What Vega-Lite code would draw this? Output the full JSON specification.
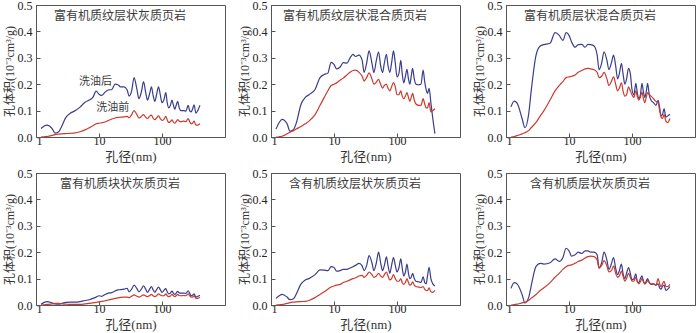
{
"$schema":"https://vega.github.io/schema/vega-lite/v6.json",
"padding":{"left":2,"top":-2,"right":0,"bottom":0},
"data":{"values":[
{"p":1,"d":1.2,"a":0.032,"b":0},{"p":1,"d":1.35,"a":0.042,"b":0.001},{"p":1,"d":1.5,"a":0.045,"b":0.002},{"p":1,"d":1.8,"a":0.032,"b":0.006},{"p":1,"d":2.0,"a":0.015,"b":0.009},{"p":1,"d":2.3,"a":0.02,"b":0.011},{"p":1,"d":2.5,"a":0.035,"b":0.012},{"p":1,"d":3,"a":0.075,"b":0.013},{"p":1,"d":3.5,"a":0.09,"b":0.014},{"p":1,"d":4,"a":0.097,"b":0.015},{"p":1,"d":5,"a":0.113,"b":0.02},{"p":1,"d":6,"a":0.132,"b":0.027},{"p":1,"d":7,"a":0.14,"b":0.035},{"p":1,"d":8,"a":0.15,"b":0.043},{"p":1,"d":9,"a":0.174,"b":0.05},{"p":1,"d":10,"a":0.162,"b":0.052},{"p":1,"d":11,"a":0.158,"b":0.054},{"p":1,"d":12.5,"a":0.17,"b":0.057},{"p":1,"d":14,"a":0.178,"b":0.062},{"p":1,"d":16,"a":0.18,"b":0.068},{"p":1,"d":18,"a":0.2,"b":0.072},{"p":1,"d":20,"a":0.198,"b":0.074},{"p":1,"d":22,"a":0.19,"b":0.075},{"p":1,"d":25,"a":0.19,"b":0.076},{"p":1,"d":28,"a":0.178,"b":0.078},{"p":1,"d":30,"a":0.155,"b":0.073},{"p":1,"d":33,"a":0.175,"b":0.085},{"p":1,"d":36,"a":0.225,"b":0.1},{"p":1,"d":40,"a":0.18,"b":0.085},{"p":1,"d":43,"a":0.145,"b":0.072},{"p":1,"d":47,"a":0.17,"b":0.078},{"p":1,"d":51,"a":0.21,"b":0.085},{"p":1,"d":55,"a":0.17,"b":0.075},{"p":1,"d":59,"a":0.14,"b":0.07},{"p":1,"d":63,"a":0.16,"b":0.078},{"p":1,"d":68,"a":0.19,"b":0.083},{"p":1,"d":72,"a":0.16,"b":0.072},{"p":1,"d":77,"a":0.135,"b":0.066},{"p":1,"d":82,"a":0.16,"b":0.072},{"p":1,"d":88,"a":0.19,"b":0.08},{"p":1,"d":94,"a":0.16,"b":0.07},{"p":1,"d":100,"a":0.13,"b":0.063},{"p":1,"d":107,"a":0.14,"b":0.067},{"p":1,"d":115,"a":0.168,"b":0.078},{"p":1,"d":121,"a":0.13,"b":0.065},{"p":1,"d":128,"a":0.11,"b":0.055},{"p":1,"d":136,"a":0.12,"b":0.058},{"p":1,"d":144,"a":0.14,"b":0.065},{"p":1,"d":152,"a":0.12,"b":0.056},{"p":1,"d":160,"a":0.105,"b":0.052},{"p":1,"d":168,"a":0.12,"b":0.058},{"p":1,"d":177,"a":0.135,"b":0.066},{"p":1,"d":188,"a":0.11,"b":0.06},{"p":1,"d":200,"a":0.1,"b":0.058},{"p":1,"d":220,"a":0.1,"b":0.06},{"p":1,"d":240,"a":0.098,"b":0.058},{"p":1,"d":260,"a":0.12,"b":0.07},{"p":1,"d":275,"a":0.1,"b":0.058},{"p":1,"d":290,"a":0.095,"b":0.05},{"p":1,"d":305,"a":0.105,"b":0.052},{"p":1,"d":323,"a":0.122,"b":0.06},{"p":1,"d":345,"a":0.09,"b":0.045},{"p":1,"d":370,"a":0.1,"b":0.045},{"p":1,"d":400,"a":0.12,"b":0.05},
{"p":2,"d":1.2,"a":0.03,"b":0},{"p":2,"d":1.35,"a":0.055,"b":0.001},{"p":2,"d":1.5,"a":0.067,"b":0.003},{"p":2,"d":1.8,"a":0.05,"b":0.012},{"p":2,"d":2.0,"a":0.022,"b":0.018},{"p":2,"d":2.3,"a":0.03,"b":0.025},{"p":2,"d":2.5,"a":0.05,"b":0.03},{"p":2,"d":3,"a":0.124,"b":0.04},{"p":2,"d":3.5,"a":0.15,"b":0.05},{"p":2,"d":4,"a":0.16,"b":0.06},{"p":2,"d":5,"a":0.18,"b":0.085},{"p":2,"d":6,"a":0.225,"b":0.12},{"p":2,"d":7,"a":0.237,"b":0.15},{"p":2,"d":8,"a":0.242,"b":0.175},{"p":2,"d":9,"a":0.283,"b":0.195},{"p":2,"d":10,"a":0.275,"b":0.2},{"p":2,"d":11,"a":0.258,"b":0.205},{"p":2,"d":12.5,"a":0.265,"b":0.215},{"p":2,"d":14,"a":0.282,"b":0.223},{"p":2,"d":16,"a":0.28,"b":0.235},{"p":2,"d":18,"a":0.3,"b":0.245},{"p":2,"d":20,"a":0.313,"b":0.252},{"p":2,"d":22,"a":0.305,"b":0.253},{"p":2,"d":25,"a":0.31,"b":0.245},{"p":2,"d":28,"a":0.29,"b":0.23},{"p":2,"d":30,"a":0.245,"b":0.212},{"p":2,"d":33,"a":0.28,"b":0.225},{"p":2,"d":36,"a":0.326,"b":0.243},{"p":2,"d":40,"a":0.28,"b":0.22},{"p":2,"d":43,"a":0.244,"b":0.2},{"p":2,"d":47,"a":0.29,"b":0.208},{"p":2,"d":51,"a":0.322,"b":0.218},{"p":2,"d":55,"a":0.27,"b":0.2},{"p":2,"d":59,"a":0.244,"b":0.185},{"p":2,"d":63,"a":0.28,"b":0.195},{"p":2,"d":68,"a":0.313,"b":0.2},{"p":2,"d":72,"a":0.27,"b":0.185},{"p":2,"d":77,"a":0.245,"b":0.175},{"p":2,"d":82,"a":0.28,"b":0.19},{"p":2,"d":88,"a":0.326,"b":0.206},{"p":2,"d":94,"a":0.28,"b":0.19},{"p":2,"d":100,"a":0.228,"b":0.16},{"p":2,"d":107,"a":0.24,"b":0.16},{"p":2,"d":115,"a":0.29,"b":0.175},{"p":2,"d":121,"a":0.24,"b":0.155},{"p":2,"d":128,"a":0.205,"b":0.145},{"p":2,"d":136,"a":0.23,"b":0.155},{"p":2,"d":144,"a":0.256,"b":0.168},{"p":2,"d":152,"a":0.22,"b":0.15},{"p":2,"d":160,"a":0.2,"b":0.135},{"p":2,"d":168,"a":0.23,"b":0.15},{"p":2,"d":177,"a":0.26,"b":0.165},{"p":2,"d":188,"a":0.22,"b":0.14},{"p":2,"d":200,"a":0.2,"b":0.125},{"p":2,"d":220,"a":0.198,"b":0.12},{"p":2,"d":240,"a":0.2,"b":0.12},{"p":2,"d":260,"a":0.253,"b":0.145},{"p":2,"d":275,"a":0.21,"b":0.125},{"p":2,"d":290,"a":0.18,"b":0.11},{"p":2,"d":305,"a":0.165,"b":0.11},{"p":2,"d":323,"a":0.184,"b":0.13},{"p":2,"d":345,"a":0.13,"b":0.095},{"p":2,"d":370,"a":0.07,"b":0.1},{"p":2,"d":400,"a":0.013,"b":0.107},
{"p":3,"d":1.2,"a":0.114,"b":0},{"p":3,"d":1.35,"a":0.136,"b":0.002},{"p":3,"d":1.5,"a":0.128,"b":0.005},{"p":3,"d":1.8,"a":0.07,"b":0.012},{"p":3,"d":2.0,"a":0.035,"b":0.016},{"p":3,"d":2.3,"a":0.09,"b":0.025},{"p":3,"d":2.5,"a":0.17,"b":0.035},{"p":3,"d":3,"a":0.31,"b":0.055},{"p":3,"d":3.5,"a":0.345,"b":0.08},{"p":3,"d":4,"a":0.35,"b":0.1},{"p":3,"d":5,"a":0.355,"b":0.14},{"p":3,"d":6,"a":0.395,"b":0.175},{"p":3,"d":7,"a":0.385,"b":0.195},{"p":3,"d":8,"a":0.366,"b":0.21},{"p":3,"d":9,"a":0.395,"b":0.225},{"p":3,"d":10,"a":0.385,"b":0.228},{"p":3,"d":11,"a":0.36,"b":0.23},{"p":3,"d":12.5,"a":0.34,"b":0.235},{"p":3,"d":14,"a":0.35,"b":0.245},{"p":3,"d":16,"a":0.351,"b":0.252},{"p":3,"d":18,"a":0.34,"b":0.258},{"p":3,"d":20,"a":0.351,"b":0.26},{"p":3,"d":22,"a":0.35,"b":0.258},{"p":3,"d":25,"a":0.345,"b":0.255},{"p":3,"d":28,"a":0.31,"b":0.245},{"p":3,"d":30,"a":0.255,"b":0.225},{"p":3,"d":33,"a":0.28,"b":0.23},{"p":3,"d":36,"a":0.323,"b":0.245},{"p":3,"d":40,"a":0.29,"b":0.22},{"p":3,"d":43,"a":0.255,"b":0.195},{"p":3,"d":47,"a":0.28,"b":0.21},{"p":3,"d":51,"a":0.31,"b":0.228},{"p":3,"d":55,"a":0.27,"b":0.2},{"p":3,"d":59,"a":0.22,"b":0.175},{"p":3,"d":63,"a":0.24,"b":0.185},{"p":3,"d":68,"a":0.279,"b":0.205},{"p":3,"d":72,"a":0.24,"b":0.175},{"p":3,"d":77,"a":0.2,"b":0.155},{"p":3,"d":82,"a":0.22,"b":0.16},{"p":3,"d":88,"a":0.26,"b":0.19},{"p":3,"d":94,"a":0.24,"b":0.175},{"p":3,"d":100,"a":0.18,"b":0.16},{"p":3,"d":107,"a":0.16,"b":0.15},{"p":3,"d":115,"a":0.203,"b":0.175},{"p":3,"d":121,"a":0.17,"b":0.155},{"p":3,"d":128,"a":0.145,"b":0.14},{"p":3,"d":136,"a":0.16,"b":0.15},{"p":3,"d":144,"a":0.203,"b":0.17},{"p":3,"d":152,"a":0.17,"b":0.145},{"p":3,"d":160,"a":0.15,"b":0.13},{"p":3,"d":168,"a":0.17,"b":0.15},{"p":3,"d":177,"a":0.203,"b":0.168},{"p":3,"d":188,"a":0.16,"b":0.16},{"p":3,"d":200,"a":0.14,"b":0.155},{"p":3,"d":220,"a":0.13,"b":0.145},{"p":3,"d":240,"a":0.12,"b":0.135},{"p":3,"d":260,"a":0.139,"b":0.13},{"p":3,"d":275,"a":0.11,"b":0.1},{"p":3,"d":290,"a":0.08,"b":0.075},{"p":3,"d":305,"a":0.085,"b":0.07},{"p":3,"d":323,"a":0.108,"b":0.085},{"p":3,"d":345,"a":0.075,"b":0.06},{"p":3,"d":370,"a":0.08,"b":0.055},{"p":3,"d":400,"a":0.086,"b":0.07},
{"p":4,"d":1.2,"a":0.003,"b":0},{"p":4,"d":1.35,"a":0.01,"b":0.001},{"p":4,"d":1.5,"a":0.013,"b":0.002},{"p":4,"d":1.8,"a":0.008,"b":0.004},{"p":4,"d":2.0,"a":0.004,"b":0.006},{"p":4,"d":2.3,"a":0.003,"b":0.006},{"p":4,"d":2.5,"a":0.005,"b":0.005},{"p":4,"d":3,"a":0.01,"b":0.003},{"p":4,"d":3.5,"a":0.011,"b":0.002},{"p":4,"d":4,"a":0.011,"b":0.002},{"p":4,"d":5,"a":0.013,"b":0.002},{"p":4,"d":6,"a":0.017,"b":0.004},{"p":4,"d":7,"a":0.02,"b":0.006},{"p":4,"d":8,"a":0.025,"b":0.008},{"p":4,"d":9,"a":0.03,"b":0.01},{"p":4,"d":10,"a":0.035,"b":0.012},{"p":4,"d":11,"a":0.033,"b":0.014},{"p":4,"d":12.5,"a":0.04,"b":0.016},{"p":4,"d":14,"a":0.045,"b":0.019},{"p":4,"d":16,"a":0.047,"b":0.022},{"p":4,"d":18,"a":0.053,"b":0.025},{"p":4,"d":20,"a":0.057,"b":0.027},{"p":4,"d":22,"a":0.058,"b":0.029},{"p":4,"d":25,"a":0.06,"b":0.03},{"p":4,"d":28,"a":0.063,"b":0.03},{"p":4,"d":30,"a":0.05,"b":0.028},{"p":4,"d":33,"a":0.06,"b":0.033},{"p":4,"d":36,"a":0.075,"b":0.038},{"p":4,"d":40,"a":0.062,"b":0.033},{"p":4,"d":43,"a":0.05,"b":0.03},{"p":4,"d":47,"a":0.06,"b":0.034},{"p":4,"d":51,"a":0.073,"b":0.038},{"p":4,"d":55,"a":0.06,"b":0.034},{"p":4,"d":59,"a":0.048,"b":0.032},{"p":4,"d":63,"a":0.058,"b":0.035},{"p":4,"d":68,"a":0.07,"b":0.04},{"p":4,"d":72,"a":0.058,"b":0.035},{"p":4,"d":77,"a":0.048,"b":0.032},{"p":4,"d":82,"a":0.058,"b":0.035},{"p":4,"d":88,"a":0.068,"b":0.042},{"p":4,"d":94,"a":0.058,"b":0.038},{"p":4,"d":100,"a":0.048,"b":0.035},{"p":4,"d":107,"a":0.055,"b":0.035},{"p":4,"d":115,"a":0.062,"b":0.042},{"p":4,"d":121,"a":0.05,"b":0.035},{"p":4,"d":128,"a":0.042,"b":0.032},{"p":4,"d":136,"a":0.045,"b":0.034},{"p":4,"d":144,"a":0.053,"b":0.04},{"p":4,"d":152,"a":0.045,"b":0.035},{"p":4,"d":160,"a":0.04,"b":0.032},{"p":4,"d":168,"a":0.045,"b":0.035},{"p":4,"d":177,"a":0.052,"b":0.04},{"p":4,"d":188,"a":0.046,"b":0.036},{"p":4,"d":200,"a":0.045,"b":0.035},{"p":4,"d":220,"a":0.045,"b":0.036},{"p":4,"d":240,"a":0.044,"b":0.035},{"p":4,"d":260,"a":0.054,"b":0.042},{"p":4,"d":275,"a":0.045,"b":0.035},{"p":4,"d":290,"a":0.035,"b":0.03},{"p":4,"d":305,"a":0.037,"b":0.03},{"p":4,"d":323,"a":0.042,"b":0.035},{"p":4,"d":345,"a":0.03,"b":0.025},{"p":4,"d":370,"a":0.033,"b":0.025},{"p":4,"d":400,"a":0.037,"b":0.03},
{"p":5,"d":1.2,"a":0.025,"b":0},{"p":5,"d":1.35,"a":0.035,"b":0.001},{"p":5,"d":1.5,"a":0.04,"b":0.002},{"p":5,"d":1.8,"a":0.03,"b":0.006},{"p":5,"d":2.0,"a":0.02,"b":0.009},{"p":5,"d":2.3,"a":0.025,"b":0.011},{"p":5,"d":2.5,"a":0.04,"b":0.012},{"p":5,"d":3,"a":0.08,"b":0.013},{"p":5,"d":3.5,"a":0.095,"b":0.014},{"p":5,"d":4,"a":0.1,"b":0.017},{"p":5,"d":5,"a":0.115,"b":0.028},{"p":5,"d":6,"a":0.133,"b":0.04},{"p":5,"d":7,"a":0.132,"b":0.05},{"p":5,"d":8,"a":0.13,"b":0.06},{"p":5,"d":9,"a":0.145,"b":0.068},{"p":5,"d":10,"a":0.142,"b":0.072},{"p":5,"d":11,"a":0.128,"b":0.075},{"p":5,"d":12.5,"a":0.13,"b":0.078},{"p":5,"d":14,"a":0.135,"b":0.085},{"p":5,"d":16,"a":0.135,"b":0.09},{"p":5,"d":18,"a":0.14,"b":0.095},{"p":5,"d":20,"a":0.145,"b":0.1},{"p":5,"d":22,"a":0.15,"b":0.103},{"p":5,"d":25,"a":0.158,"b":0.11},{"p":5,"d":28,"a":0.148,"b":0.112},{"p":5,"d":30,"a":0.13,"b":0.105},{"p":5,"d":33,"a":0.15,"b":0.112},{"p":5,"d":36,"a":0.187,"b":0.125},{"p":5,"d":40,"a":0.16,"b":0.115},{"p":5,"d":43,"a":0.13,"b":0.105},{"p":5,"d":47,"a":0.16,"b":0.11},{"p":5,"d":51,"a":0.2,"b":0.12},{"p":5,"d":55,"a":0.16,"b":0.11},{"p":5,"d":59,"a":0.13,"b":0.105},{"p":5,"d":63,"a":0.15,"b":0.115},{"p":5,"d":68,"a":0.182,"b":0.125},{"p":5,"d":72,"a":0.15,"b":0.11},{"p":5,"d":77,"a":0.12,"b":0.095},{"p":5,"d":82,"a":0.15,"b":0.1},{"p":5,"d":88,"a":0.18,"b":0.115},{"p":5,"d":94,"a":0.15,"b":0.1},{"p":5,"d":100,"a":0.125,"b":0.09},{"p":5,"d":107,"a":0.14,"b":0.09},{"p":5,"d":115,"a":0.175,"b":0.1},{"p":5,"d":121,"a":0.14,"b":0.085},{"p":5,"d":128,"a":0.11,"b":0.078},{"p":5,"d":136,"a":0.125,"b":0.085},{"p":5,"d":144,"a":0.155,"b":0.1},{"p":5,"d":152,"a":0.12,"b":0.085},{"p":5,"d":160,"a":0.1,"b":0.075},{"p":5,"d":168,"a":0.105,"b":0.078},{"p":5,"d":177,"a":0.12,"b":0.088},{"p":5,"d":188,"a":0.1,"b":0.075},{"p":5,"d":200,"a":0.09,"b":0.07},{"p":5,"d":220,"a":0.088,"b":0.068},{"p":5,"d":240,"a":0.085,"b":0.066},{"p":5,"d":260,"a":0.107,"b":0.07},{"p":5,"d":275,"a":0.085,"b":0.06},{"p":5,"d":290,"a":0.08,"b":0.055},{"p":5,"d":305,"a":0.11,"b":0.055},{"p":5,"d":323,"a":0.143,"b":0.065},{"p":5,"d":345,"a":0.1,"b":0.05},{"p":5,"d":370,"a":0.08,"b":0.048},{"p":5,"d":400,"a":0.072,"b":0.055},
{"p":6,"d":1.2,"a":0.063,"b":0},{"p":6,"d":1.35,"a":0.085,"b":0.002},{"p":6,"d":1.5,"a":0.08,"b":0.003},{"p":6,"d":1.8,"a":0.04,"b":0.008},{"p":6,"d":2.0,"a":0.008,"b":0.01},{"p":6,"d":2.3,"a":0.03,"b":0.018},{"p":6,"d":2.5,"a":0.07,"b":0.025},{"p":6,"d":3,"a":0.146,"b":0.04},{"p":6,"d":3.5,"a":0.158,"b":0.055},{"p":6,"d":4,"a":0.155,"b":0.065},{"p":6,"d":5,"a":0.16,"b":0.085},{"p":6,"d":6,"a":0.175,"b":0.105},{"p":6,"d":7,"a":0.165,"b":0.12},{"p":6,"d":8,"a":0.18,"b":0.135},{"p":6,"d":9,"a":0.215,"b":0.145},{"p":6,"d":10,"a":0.205,"b":0.15},{"p":6,"d":11,"a":0.185,"b":0.152},{"p":6,"d":12.5,"a":0.19,"b":0.158},{"p":6,"d":14,"a":0.2,"b":0.165},{"p":6,"d":16,"a":0.195,"b":0.17},{"p":6,"d":18,"a":0.205,"b":0.178},{"p":6,"d":20,"a":0.205,"b":0.183},{"p":6,"d":22,"a":0.2,"b":0.185},{"p":6,"d":25,"a":0.2,"b":0.183},{"p":6,"d":28,"a":0.19,"b":0.17},{"p":6,"d":30,"a":0.14,"b":0.14},{"p":6,"d":33,"a":0.16,"b":0.15},{"p":6,"d":36,"a":0.2,"b":0.168},{"p":6,"d":40,"a":0.17,"b":0.148},{"p":6,"d":43,"a":0.135,"b":0.125},{"p":6,"d":47,"a":0.155,"b":0.13},{"p":6,"d":51,"a":0.18,"b":0.148},{"p":6,"d":55,"a":0.14,"b":0.12},{"p":6,"d":59,"a":0.115,"b":0.105},{"p":6,"d":63,"a":0.13,"b":0.11},{"p":6,"d":68,"a":0.155,"b":0.128},{"p":6,"d":72,"a":0.12,"b":0.11},{"p":6,"d":77,"a":0.1,"b":0.09},{"p":6,"d":82,"a":0.12,"b":0.1},{"p":6,"d":88,"a":0.142,"b":0.12},{"p":6,"d":94,"a":0.12,"b":0.105},{"p":6,"d":100,"a":0.095,"b":0.09},{"p":6,"d":107,"a":0.1,"b":0.09},{"p":6,"d":115,"a":0.118,"b":0.105},{"p":6,"d":121,"a":0.09,"b":0.09},{"p":6,"d":128,"a":0.085,"b":0.08},{"p":6,"d":136,"a":0.1,"b":0.088},{"p":6,"d":144,"a":0.11,"b":0.1},{"p":6,"d":152,"a":0.09,"b":0.088},{"p":6,"d":160,"a":0.08,"b":0.08},{"p":6,"d":168,"a":0.09,"b":0.085},{"p":6,"d":177,"a":0.1,"b":0.092},{"p":6,"d":188,"a":0.085,"b":0.085},{"p":6,"d":200,"a":0.078,"b":0.08},{"p":6,"d":220,"a":0.08,"b":0.08},{"p":6,"d":240,"a":0.075,"b":0.075},{"p":6,"d":260,"a":0.08,"b":0.1},{"p":6,"d":275,"a":0.065,"b":0.08},{"p":6,"d":290,"a":0.06,"b":0.07},{"p":6,"d":305,"a":0.07,"b":0.08},{"p":6,"d":323,"a":0.075,"b":0.09},{"p":6,"d":345,"a":0.055,"b":0.07},{"p":6,"d":370,"a":0.06,"b":0.07},{"p":6,"d":400,"a":0.07,"b":0.078}
]},
"columns":3,
"spacing":{"row":36,"column":46},
"bounds":"flush",
"concat":[
{"transform":[{"filter":"datum.p==1"}],"width":189,"height":132,"layer":[
{"transform":[{"fold":["a","b"],"as":["s","v"]}],"mark":"line","encoding":{"x":{"field":"d","type":"quantitative","scale":{"type":"log","domain":[1,500]},"axis":{"values":[1,10,100],"format":"d","title":"孔径(nm)","labelOverlap":false}},"y":{"field":"v","type":"quantitative","scale":{"domain":[0,0.5],"nice":false},"axis":{"values":[0,0.1,0.2,0.3,0.4,0.5],"tickCount":12,"format":".1f","title":"孔体积(10⁻³cm³/g)","labelOverlap":false,"labelBound":false,"labelFlush":false}},"color":{"field":"s","type":"nominal","scale":{"domain":["a","b"],"range":["#3a3c8e","#cb3a2c"]},"legend":null}}},
{"transform":[{"filter":"datum.d==1.2"}],"mark":"text","encoding":{"x":{"datum":21.5,"type":"quantitative"},"y":{"datum":0.458,"type":"quantitative"},"text":{"value":"富有机质纹层状灰质页岩"}}},
{"transform":[{"filter":"datum.d==1.2"}],"mark":{"type":"text","fontSize":11},"encoding":{"x":{"datum":8.8,"type":"quantitative"},"y":{"datum":0.207,"type":"quantitative"},"text":{"value":"洗油后"}}},
{"transform":[{"filter":"datum.d==1.2"}],"mark":{"type":"text","fontSize":11},"encoding":{"x":{"datum":16.5,"type":"quantitative"},"y":{"datum":0.109,"type":"quantitative"},"text":{"value":"洗油前"}}}
]},
{"transform":[{"filter":"datum.p==2"}],"width":189,"height":132,"layer":[
{"transform":[{"fold":["a","b"],"as":["s","v"]}],"mark":"line","encoding":{"x":{"field":"d","type":"quantitative","scale":{"type":"log","domain":[1,500]},"axis":{"values":[1,10,100],"format":"d","title":"孔径(nm)","labelOverlap":false}},"y":{"field":"v","type":"quantitative","scale":{"domain":[0,0.5],"nice":false},"axis":{"values":[0,0.1,0.2,0.3,0.4,0.5],"tickCount":12,"format":".1f","title":"孔体积(10⁻³cm³/g)","labelOverlap":false,"labelBound":false,"labelFlush":false}},"color":{"field":"s","type":"nominal","scale":{"domain":["a","b"],"range":["#3a3c8e","#cb3a2c"]},"legend":null}}},
{"transform":[{"filter":"datum.d==1.2"}],"mark":"text","encoding":{"x":{"datum":21.5,"type":"quantitative"},"y":{"datum":0.458,"type":"quantitative"},"text":{"value":"富有机质纹层状混合质页岩"}}}
]},
{"transform":[{"filter":"datum.p==3"}],"width":189,"height":132,"layer":[
{"transform":[{"fold":["a","b"],"as":["s","v"]}],"mark":"line","encoding":{"x":{"field":"d","type":"quantitative","scale":{"type":"log","domain":[1,500]},"axis":{"values":[1,10,100],"format":"d","title":"孔径(nm)","labelOverlap":false}},"y":{"field":"v","type":"quantitative","scale":{"domain":[0,0.5],"nice":false},"axis":{"values":[0,0.1,0.2,0.3,0.4,0.5],"tickCount":12,"format":".1f","title":"孔体积(10⁻³cm³/g)","labelOverlap":false,"labelBound":false,"labelFlush":false}},"color":{"field":"s","type":"nominal","scale":{"domain":["a","b"],"range":["#3a3c8e","#cb3a2c"]},"legend":null}}},
{"transform":[{"filter":"datum.d==1.2"}],"mark":"text","encoding":{"x":{"datum":21.5,"type":"quantitative"},"y":{"datum":0.458,"type":"quantitative"},"text":{"value":"富有机质层状混合质页岩"}}}
]},
{"transform":[{"filter":"datum.p==4"}],"width":189,"height":132,"layer":[
{"transform":[{"fold":["a","b"],"as":["s","v"]}],"mark":"line","encoding":{"x":{"field":"d","type":"quantitative","scale":{"type":"log","domain":[1,500]},"axis":{"values":[1,10,100],"format":"d","title":"孔径(nm)","labelOverlap":false}},"y":{"field":"v","type":"quantitative","scale":{"domain":[0,0.5],"nice":false},"axis":{"values":[0,0.1,0.2,0.3,0.4,0.5],"tickCount":12,"format":".1f","title":"孔体积(10⁻³cm³/g)","labelOverlap":false,"labelBound":false,"labelFlush":false}},"color":{"field":"s","type":"nominal","scale":{"domain":["a","b"],"range":["#3a3c8e","#cb3a2c"]},"legend":null}}},
{"transform":[{"filter":"datum.d==1.2"}],"mark":"text","encoding":{"x":{"datum":21.5,"type":"quantitative"},"y":{"datum":0.458,"type":"quantitative"},"text":{"value":"富有机质块状灰质页岩"}}}
]},
{"transform":[{"filter":"datum.p==5"}],"width":189,"height":132,"layer":[
{"transform":[{"fold":["a","b"],"as":["s","v"]}],"mark":"line","encoding":{"x":{"field":"d","type":"quantitative","scale":{"type":"log","domain":[1,500]},"axis":{"values":[1,10,100],"format":"d","title":"孔径(nm)","labelOverlap":false}},"y":{"field":"v","type":"quantitative","scale":{"domain":[0,0.5],"nice":false},"axis":{"values":[0,0.1,0.2,0.3,0.4,0.5],"tickCount":12,"format":".1f","title":"孔体积(10⁻³cm³/g)","labelOverlap":false,"labelBound":false,"labelFlush":false}},"color":{"field":"s","type":"nominal","scale":{"domain":["a","b"],"range":["#3a3c8e","#cb3a2c"]},"legend":null}}},
{"transform":[{"filter":"datum.d==1.2"}],"mark":"text","encoding":{"x":{"datum":21.5,"type":"quantitative"},"y":{"datum":0.458,"type":"quantitative"},"text":{"value":"含有机质纹层状灰质页岩"}}}
]},
{"transform":[{"filter":"datum.p==6"}],"width":189,"height":132,"layer":[
{"transform":[{"fold":["a","b"],"as":["s","v"]}],"mark":"line","encoding":{"x":{"field":"d","type":"quantitative","scale":{"type":"log","domain":[1,500]},"axis":{"values":[1,10,100],"format":"d","title":"孔径(nm)","labelOverlap":false}},"y":{"field":"v","type":"quantitative","scale":{"domain":[0,0.5],"nice":false},"axis":{"values":[0,0.1,0.2,0.3,0.4,0.5],"tickCount":12,"format":".1f","title":"孔体积(10⁻³cm³/g)","labelOverlap":false,"labelBound":false,"labelFlush":false}},"color":{"field":"s","type":"nominal","scale":{"domain":["a","b"],"range":["#3a3c8e","#cb3a2c"]},"legend":null}}},
{"transform":[{"filter":"datum.d==1.2"}],"mark":"text","encoding":{"x":{"datum":21.5,"type":"quantitative"},"y":{"datum":0.458,"type":"quantitative"},"text":{"value":"含有机质层状灰质页岩"}}}
]}
],
"config":{"view":{"stroke":"#555","strokeWidth":1},
"line":{"interpolate":"monotone","strokeWidth":1.2},
"text":{"fontSize":12,"font":"Liberation Serif, Noto Sans CJK SC","color":"#3a3a3a","baseline":"middle"},
"axis":{"grid":false,"domainColor":"#555","tickColor":"#555","tickSize":-4,"labelFont":"Liberation Serif","labelFontSize":12,"labelColor":"#222","titleFont":"Liberation Serif, Noto Sans CJK SC","titleFontWeight":"normal","titleColor":"#333","titleFontSize":12},
"axisX":{"labelPadding":2,"titlePadding":4,"titleFontSize":13},
"axisY":{"labelPadding":8,"titlePadding":1}}
}
